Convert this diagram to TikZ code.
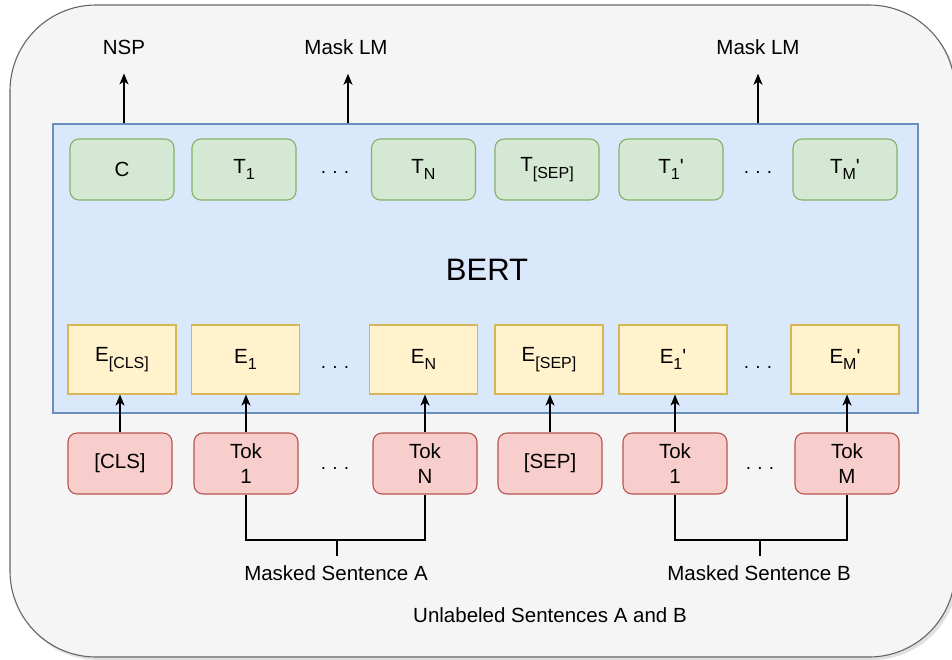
\documentclass[tikz,border=0pt]{standalone}
\usepackage{fontspec}
\setmainfont{Liberation Sans}
\usetikzlibrary{arrows.meta,calc}

\definecolor{outerfill}{HTML}{F5F5F5}
\definecolor{outerline}{HTML}{666666}
\definecolor{bertfill}{HTML}{DAE8FC}
\definecolor{bertline}{HTML}{6C8EBF}
\definecolor{outfill}{HTML}{D5E8D4}
\definecolor{outline}{HTML}{82B366}
\definecolor{embfill}{HTML}{FFF2CC}
\definecolor{embline}{HTML}{D6B656}
\definecolor{tokfill}{HTML}{F8CECC}
\definecolor{tokline}{HTML}{B85450}

% lowered, smaller index text
\newcommand{\lsub}[1]{\raisebox{-6.5pt}{\fontsize{16}{16}\selectfont #1}}
\newcommand{\prm}{\textquotesingle}

\tikzset{
  labelfont/.style={font=\fontsize{20.5}{25}\selectfont},
  cell/.style={labelfont, line width=1.1pt, inner sep=0pt, align=center},
  outcell/.style={cell, draw=outline, fill=outfill, rounded corners=9pt,
    minimum width=104pt, minimum height=61pt},
  embcell/.style={cell, draw=embline, fill=embfill,
    minimum width=108pt, minimum height=69pt},
  tokcell/.style={cell, draw=tokline, fill=tokfill, rounded corners=9pt,
    minimum width=104pt, minimum height=61pt},
  dots/.style={font=\fontsize{19}{25}\selectfont, inner sep=0pt},
  caption/.style={labelfont, inner sep=0pt},
  arr/.style={line width=1.2pt, -{Stealth[length=11pt, width=9pt, inset=3pt]}},
  link/.style={line width=1.2pt},
}

\begin{document}
\begin{tikzpicture}[x=1pt, y=-1pt]
\useasboundingbox (0,0) rectangle (952,659);

% outer container with a soft shadow
\fill[black, opacity=0.12, rounded corners=86pt] (12,8) rectangle (958,660);
\filldraw[fill=outerfill, draw=outerline, line width=1.1pt, rounded corners=86pt]
  (10,5) rectangle (955,657);

% BERT block
\node[draw=bertline, fill=bertfill, line width=1.1pt, inner sep=0pt,
      minimum width=865pt, minimum height=289pt] (bert) at (485.5,268.5) {};
\node[inner sep=0pt, font=\fontsize{31}{33}\selectfont] (bertlbl) at (487,270) {BERT};

% output cells
\node[outcell] (c)    at (122,169.5) {C};
\node[outcell] (t1)   at (244,169.5) {T\lsub{1}};
\node[dots]    (td1)  at (335,172) {.\,\,.\,\,.};
\node[outcell] (tn)   at (423.5,169.5) {T\lsub{N}};
\node[outcell] (tsep) at (547,169.5) {T\lsub{[SEP]}};
\node[outcell] (t1b)  at (671,169.5) {T\lsub{1}\prm};
\node[dots]    (td2)  at (758,172) {.\,\,.\,\,.};
\node[outcell] (tm)   at (845,169.5) {T\lsub{M}\prm};

% embedding cells
\node[embcell] (ecls) at (122,359.5) {E\lsub{[CLS]}};
\node[embcell] (e1)   at (245.5,359.5) {E\lsub{1}};
\node[dots]    (ed1)  at (335,367) {.\,\,.\,\,.};
\node[embcell] (en)   at (423.5,359.5) {E\lsub{N}};
\node[embcell] (esep) at (549,359.5) {E\lsub{[SEP]}};
\node[embcell] (e1b)  at (673,359.5) {E\lsub{1}\prm};
\node[dots]    (ed2)  at (758,367) {.\,\,.\,\,.};
\node[embcell] (em)   at (845,359.5) {E\lsub{M}\prm};

% input tokens
\node[tokcell] (cls)  at (120,463.5) {[CLS]};
\node[tokcell] (tok1) at (246,463.5) {Tok\\1};
\node[dots]    (kd1)  at (335,468) {.\,\,.\,\,.};
\node[tokcell] (tokn) at (425,463.5) {Tok\\N};
\node[tokcell] (sep)  at (550,463.5) {[SEP]};
\node[tokcell] (tokb) at (675,463.5) {Tok\\1};
\node[dots]    (kd2)  at (760,468) {.\,\,.\,\,.};
\node[tokcell] (tokm) at (847,463.5) {Tok\\M};

% token -> embedding arrows
\foreach \tk/\em in {cls/ecls, tok1/e1, tokn/en, sep/esep, tokb/e1b, tokm/em}
  \draw[arr] (\tk.north) -- (\tk.north |- \em.south);

% pre-training heads
\node[caption] (nsp)  at (124,47) {NSP};
\node[caption] (mlmA) at (346,47) {Mask LM};
\node[caption] (mlmB) at (758,47) {Mask LM};
\draw[arr] (bert.north -| nsp)      -- ($(nsp.south)+(0,19)$);
\draw[arr] (bert.north -| 348,0)    -- ($(mlmA.south)+(2,19)$);
\draw[arr] (bert.north -| mlmB)     -- ($(mlmB.south)+(0,19)$);

% sentence groupings
\node[caption] (sentA) at (336,573) {Masked Sentence A};
\node[caption] (sentB) at (759,573) {Masked Sentence B};
\node[caption] (pair)  at (550,615) {Unlabeled Sentences A and B};
\coordinate (joinA) at (337,540);
\coordinate (joinB) at (760,540);
\draw[link] (tok1.south) |- (joinA) -| (tokn.south);
\draw[link] (joinA) -- (joinA |- 0,556);
\draw[link] (tokb.south) |- (joinB) -| (tokm.south);
\draw[link] (joinB) -- (joinB |- 0,556);
\end{tikzpicture}
\end{document}
